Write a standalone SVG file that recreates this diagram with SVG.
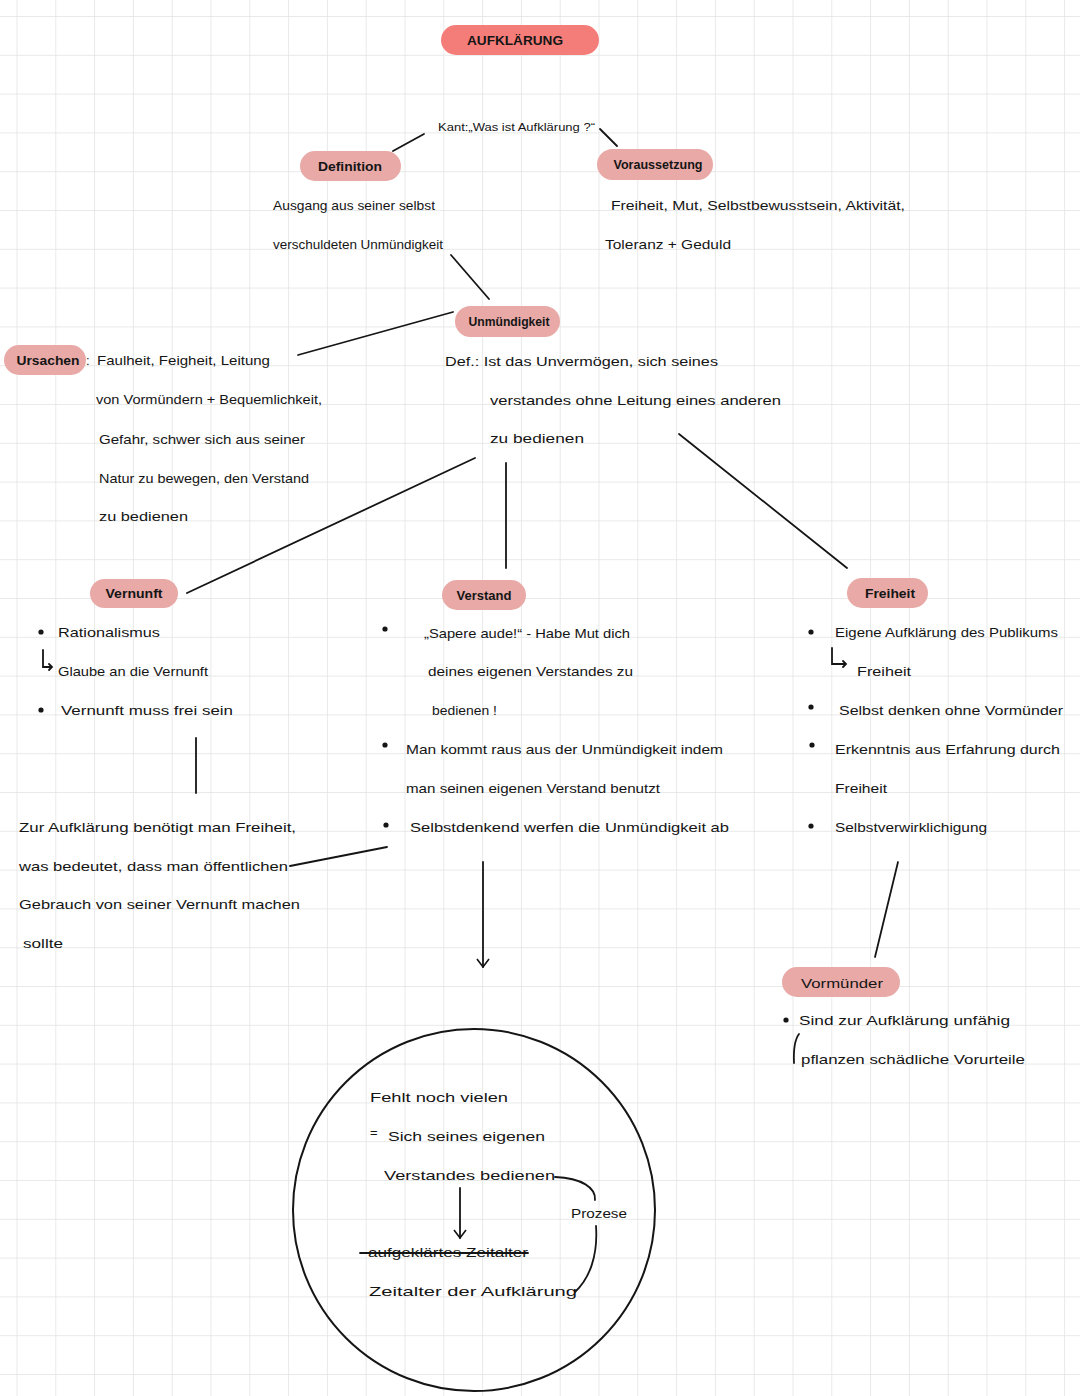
<svg xmlns="http://www.w3.org/2000/svg" width="1080" height="1396" viewBox="0 0 1080 1396">
<defs>
<pattern id="grid" x="16.5" y="16" width="38.8" height="38.8" patternUnits="userSpaceOnUse">
<path d="M0 0 H38.8 M0 0 V38.8" fill="none" stroke="#e2e2e2" stroke-width="1.5"/>
</pattern>
<marker id="vhead" markerWidth="14" markerHeight="14" refX="12" refY="7" orient="auto" markerUnits="userSpaceOnUse">
<path d="M4 1 L12 7 L4 13" fill="none" stroke="#111" stroke-width="1.6"/>
</marker>
</defs>
<style>
text{font-family:"Liberation Sans","DejaVu Sans",sans-serif;fill:#151515;}
.t{font-size:13px;}
.s{font-size:11px;}
.pl{font-size:13px;font-weight:bold;text-anchor:middle;}
.pill{fill:#e8a9a7;}
.main{fill:#f57d79;}
.ln{stroke:#151515;stroke-width:1.8;fill:none;stroke-linecap:round;}
.dot{fill:#151515;}
</style>
<rect width="1080" height="1396" fill="#ffffff"/>
<rect width="1080" height="1396" fill="url(#grid)"/>

<g id="connectors">
<line class="ln" x1="393" y1="151" x2="424" y2="134"/>
<line class="ln" x1="600" y1="129" x2="617" y2="146"/>
<line class="ln" x1="451" y1="255" x2="489" y2="299"/>
<line class="ln" x1="298" y1="355" x2="453" y2="312"/>
<line class="ln" x1="475" y1="458" x2="187" y2="593"/>
<line class="ln" x1="506" y1="463" x2="506" y2="568"/>
<line class="ln" x1="679" y1="434" x2="847" y2="568"/>
<line class="ln" x1="196" y1="738" x2="196" y2="793"/>
<line class="ln" x1="290" y1="866" x2="387" y2="847"/>
<line class="ln" x1="483" y1="862" x2="483" y2="967" marker-end="url(#vhead)"/>
<line class="ln" x1="898" y1="862" x2="875" y2="957"/>
</g>

<g id="aufklaerung">
<rect class="main" x="441" y="25" width="158" height="30" rx="15"/>
<text class="pl" x="515" y="45" textLength="96" lengthAdjust="spacingAndGlyphs">AUFKLÄRUNG</text>
</g>

<g id="kant">
<text class="s" x="438" y="131" textLength="157" lengthAdjust="spacingAndGlyphs">Kant:„Was ist Aufklärung ?“</text>
</g>

<g id="definition">
<rect class="pill" x="300" y="151" width="101" height="30" rx="15"/>
<text class="pl" x="350" y="171" textLength="64" lengthAdjust="spacingAndGlyphs">Definition</text>
<text class="t" x="273" y="210" textLength="162" lengthAdjust="spacingAndGlyphs">Ausgang aus seiner selbst</text>
<text class="t" x="273" y="249" textLength="170" lengthAdjust="spacingAndGlyphs">verschuldeten Unmündigkeit</text>
</g>

<g id="voraussetzung">
<rect class="pill" x="597" y="149" width="116" height="31" rx="15.5"/>
<text class="pl" x="658" y="169" textLength="89" lengthAdjust="spacingAndGlyphs">Voraussetzung</text>
<text class="t" x="611" y="210" textLength="294" lengthAdjust="spacingAndGlyphs">Freiheit, Mut, Selbstbewusstsein, Aktivität,</text>
<text class="t" x="605" y="249" textLength="126" lengthAdjust="spacingAndGlyphs">Toleranz  + Geduld</text>
</g>

<g id="unmuendigkeit">
<rect class="pill" x="455" y="306" width="105" height="31" rx="15.5"/>
<text class="pl" x="509" y="326" textLength="81" lengthAdjust="spacingAndGlyphs">Unmündigkeit</text>
<text class="t" x="445" y="366" textLength="273" lengthAdjust="spacingAndGlyphs">Def.: Ist das Unvermögen, sich seines</text>
<text class="t" x="490" y="405" textLength="291" lengthAdjust="spacingAndGlyphs">verstandes ohne Leitung eines anderen</text>
<text class="t" x="490" y="443" textLength="94" lengthAdjust="spacingAndGlyphs">zu bedienen</text>
</g>

<g id="ursachen">
<rect class="pill" x="4" y="345" width="82" height="30" rx="15"/>
<text class="pl" x="48" y="365" textLength="63" lengthAdjust="spacingAndGlyphs">Ursachen</text>
<text class="t" x="86" y="365">:</text>
<text class="t" x="97" y="365" textLength="173" lengthAdjust="spacingAndGlyphs">Faulheit, Feigheit, Leitung</text>
<text class="t" x="96" y="404" textLength="226" lengthAdjust="spacingAndGlyphs">von Vormündern + Bequemlichkeit,</text>
<text class="t" x="99" y="444" textLength="206" lengthAdjust="spacingAndGlyphs">Gefahr, schwer sich aus seiner</text>
<text class="t" x="99" y="483" textLength="210" lengthAdjust="spacingAndGlyphs">Natur zu bewegen, den Verstand</text>
<text class="t" x="99" y="521" textLength="89" lengthAdjust="spacingAndGlyphs">zu bedienen</text>
</g>

<g id="vernunft">
<rect class="pill" x="90" y="579" width="88" height="29" rx="14.5"/>
<text class="pl" x="134" y="598" textLength="57" lengthAdjust="spacingAndGlyphs">Vernunft</text>
<circle class="dot" cx="41" cy="632" r="2.6"/>
<text class="t" x="58" y="637" textLength="102" lengthAdjust="spacingAndGlyphs">Rationalismus</text>
<path class="ln" d="M43 650 V667 H52 M49 664 L52 667 L49 670" stroke-width="1.6"/>
<text class="t" x="58" y="676" textLength="150" lengthAdjust="spacingAndGlyphs">Glaube an die Vernunft</text>
<circle class="dot" cx="41" cy="710" r="2.6"/>
<text class="t" x="61" y="715" textLength="172" lengthAdjust="spacingAndGlyphs">Vernunft muss frei sein</text>
</g>

<g id="freiheit-oeffentlich">
<text class="t" x="19" y="832" textLength="277" lengthAdjust="spacingAndGlyphs">Zur Aufklärung benötigt man Freiheit,</text>
<text class="t" x="19" y="871" textLength="269" lengthAdjust="spacingAndGlyphs">was bedeutet, dass man öffentlichen</text>
<text class="t" x="19" y="909" textLength="281" lengthAdjust="spacingAndGlyphs">Gebrauch von seiner Vernunft machen</text>
<text class="t" x="23" y="948" textLength="40" lengthAdjust="spacingAndGlyphs">sollte</text>
</g>

<g id="verstand">
<rect class="pill" x="442" y="580" width="84" height="30" rx="15"/>
<text class="pl" x="484" y="600" textLength="55" lengthAdjust="spacingAndGlyphs">Verstand</text>
<circle class="dot" cx="385" cy="629" r="2.6"/>
<text class="t" x="424" y="638" textLength="206" lengthAdjust="spacingAndGlyphs">„Sapere aude!“ - Habe Mut dich</text>
<text class="t" x="428" y="676" textLength="205" lengthAdjust="spacingAndGlyphs">deines eigenen Verstandes zu</text>
<text class="t" x="432" y="715" textLength="65" lengthAdjust="spacingAndGlyphs">bedienen !</text>
<circle class="dot" cx="385" cy="745" r="2.6"/>
<text class="t" x="406" y="754" textLength="317" lengthAdjust="spacingAndGlyphs">Man kommt raus aus der Unmündigkeit indem</text>
<text class="t" x="406" y="793" textLength="254" lengthAdjust="spacingAndGlyphs">man seinen eigenen  Verstand  benutzt</text>
<circle class="dot" cx="386" cy="825" r="2.6"/>
<text class="t" x="410" y="832" textLength="319" lengthAdjust="spacingAndGlyphs">Selbstdenkend werfen die Unmündigkeit ab</text>
</g>

<g id="freiheit">
<rect class="pill" x="847" y="578" width="81" height="30" rx="15"/>
<text class="pl" x="890" y="598" textLength="50" lengthAdjust="spacingAndGlyphs">Freiheit</text>
<circle class="dot" cx="811" cy="632" r="2.6"/>
<text class="t" x="835" y="637" textLength="223" lengthAdjust="spacingAndGlyphs">Eigene Aufklärung des Publikums</text>
<path class="ln" d="M832 648 V664 H846 M843 661 L846 664 L843 667" stroke-width="1.6"/>
<text class="t" x="857" y="676" textLength="54" lengthAdjust="spacingAndGlyphs">Freiheit</text>
<circle class="dot" cx="811" cy="707" r="2.6"/>
<text class="t" x="839" y="715" textLength="224" lengthAdjust="spacingAndGlyphs">Selbst denken ohne Vormünder</text>
<circle class="dot" cx="812" cy="745" r="2.6"/>
<text class="t" x="835" y="754" textLength="225" lengthAdjust="spacingAndGlyphs">Erkenntnis aus Erfahrung durch</text>
<text class="t" x="835" y="793" textLength="52" lengthAdjust="spacingAndGlyphs">Freiheit</text>
<circle class="dot" cx="811" cy="826" r="2.6"/>
<text class="t" x="835" y="832" textLength="152" lengthAdjust="spacingAndGlyphs">Selbstverwirklichigung</text>
</g>

<g id="vormuender">
<rect class="pill" x="782" y="967" width="118" height="30" rx="15"/>
<text class="pl" x="842" y="988" font-size="15" textLength="82" lengthAdjust="spacingAndGlyphs" style="font-weight:normal">Vormünder</text>
<circle class="dot" cx="786" cy="1020" r="2.6"/>
<text class="t" x="799" y="1025" textLength="211" lengthAdjust="spacingAndGlyphs">Sind zur Aufklärung unfähig</text>
<path class="ln" d="M799 1034 Q793 1042 794 1063" stroke-width="1.6"/>
<text class="t" x="801" y="1064" textLength="224" lengthAdjust="spacingAndGlyphs">pflanzen schädliche Vorurteile</text>
</g>

<g id="kreis">
<circle cx="474" cy="1210" r="181" fill="none" stroke="#151515" stroke-width="2"/>
<text class="t" x="370" y="1102" textLength="138" lengthAdjust="spacingAndGlyphs">Fehlt noch vielen</text>
<text class="t" x="370" y="1137">=</text>
<text class="t" x="388" y="1141" textLength="157" lengthAdjust="spacingAndGlyphs">Sich seines eigenen</text>
<text class="t" x="384" y="1180" textLength="171" lengthAdjust="spacingAndGlyphs">Verstandes bedienen</text>
<line class="ln" x1="460" y1="1188" x2="460" y2="1238" marker-end="url(#vhead)" stroke-width="1.6"/>
<text class="t" x="368" y="1257" textLength="160" lengthAdjust="spacingAndGlyphs">aufgeklärtes Zeitalter</text>
<line class="ln" x1="360" y1="1253" x2="528" y2="1253" stroke-width="1.6"/>
<text class="t" x="369" y="1296" textLength="208" lengthAdjust="spacingAndGlyphs">Zeitalter der Aufklärung</text>
<path class="ln" d="M555 1177 C582 1178 596 1188 595 1200" stroke-width="1.6"/>
<path class="ln" d="M596 1226 C598 1255 590 1278 575 1292" stroke-width="1.6"/>
<text class="t" x="571" y="1218" textLength="56" lengthAdjust="spacingAndGlyphs">Prozese</text>
</g>
</svg>
